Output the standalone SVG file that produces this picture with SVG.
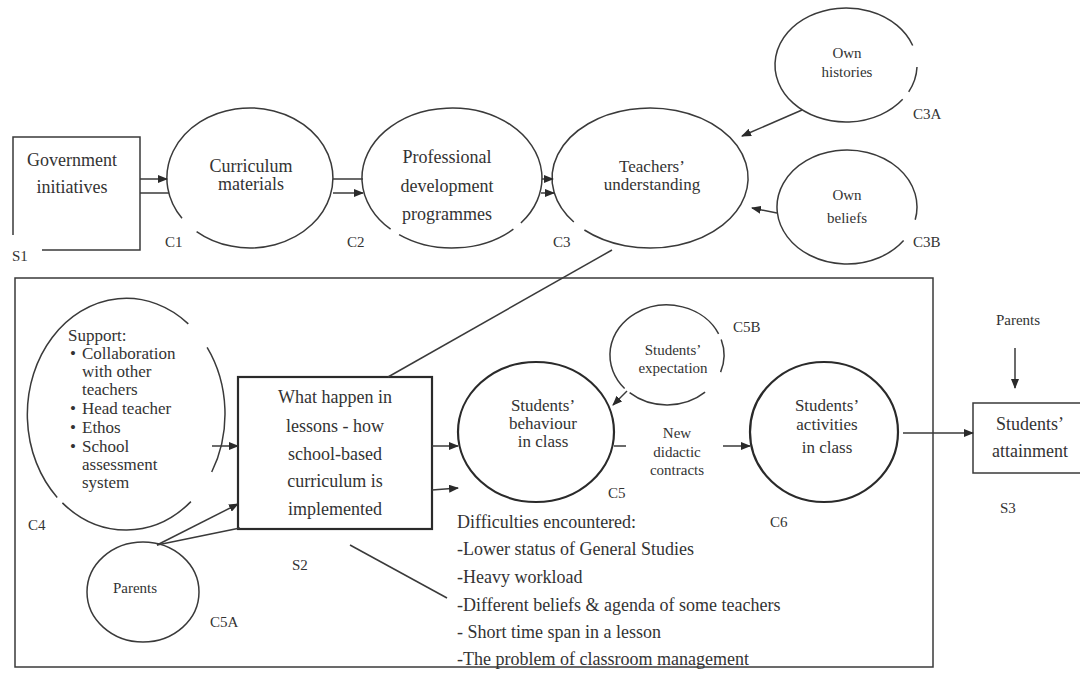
<svg xmlns="http://www.w3.org/2000/svg" width="1080" height="675" viewBox="0 0 1080 675">
<style>
text{font-family:"Liberation Serif","Times New Roman",serif;fill:#333}
.t{font-size:18px}
.c{font-size:17px}
.s{font-size:15px}
.m{text-anchor:middle}
.ln{fill:none;stroke:#3a3a3a;stroke-width:1.5}
.bd{fill:none;stroke:#2a2a2a;stroke-width:2.2}
.ar{marker-end:url(#ah)}
</style>
<defs>
<marker id="ah" markerUnits="userSpaceOnUse" markerWidth="10" markerHeight="8" refX="9" refY="4" orient="auto">
<path d="M0,0 L10,4 L0,8 z" fill="#2a2a2a"/>
</marker>
</defs>
<rect width="1080" height="675" fill="#fff"/>

<g id="frame"><rect class="ln" x="15" y="278" width="918" height="389"/></g>

<g id="S1">
<path class="ln" d="M13,235 V137 H140 V250 H42"/>
<text class="t m" x="72" y="166">Government</text>
<text class="t m" x="72" y="193">initiatives</text>
<text class="s" x="12" y="261">S1</text>
</g>

<g id="C1">
<path class="ln" d="M182,218.2 A83 70 0 1 1 196.6,231.6"/>
<text class="t m" x="251" y="172">Curriculum</text>
<text class="t m" x="251" y="190">materials</text>
<text class="s" x="165" y="247">C1</text>
</g>

<g id="C2">
<path class="ln" d="M390.6,229.2 A90 70 0 1 1 520.9,223 M513.4,229.2 A90 70 0 0 1 399.1,234.6"/>
<text class="t m" x="447" y="163">Professional</text>
<text class="t m" x="447" y="192">development</text>
<text class="t m" x="447" y="220">programmes</text>
<text class="s" x="347" y="247">C2</text>
</g>

<g id="C3">
<path class="ln" d="M573.8,222 A98 70 0 1 1 584.4,230"/>
<text class="c m" x="652" y="172">Teachers’</text>
<text class="c m" x="652" y="190">understanding</text>
<text class="s" x="553" y="247">C3</text>
</g>

<g id="C3A">
<path class="ln" d="M902.7,99.3 A71 57 0 1 1 912.7,45.5 M917,67 A71 57 0 0 1 908.7,91.8"/>
<text class="s m" x="847" y="58">Own</text>
<text class="s m" x="847" y="77">histories</text>
<text class="s" x="913" y="119">C3A</text>
</g>

<g id="C3B">
<path class="ln" d="M903.6,240.5 A70 57 0 1 1 915.2,219.8"/>
<text class="s m" x="847" y="200">Own</text>
<text class="s m" x="847" y="223">beliefs</text>
<text class="s" x="913" y="247">C3B</text>
</g>

<g id="C4">
<path class="ln" d="M207.1,347.4 A99 116 0 0 1 211.7,472 M190.9,501.6 A99 116 0 0 1 62.4,502.9 M57.2,497.4 A99 116 0 0 1 188.3,323.9"/>
<text class="c" x="68" y="341">Support:</text>
<text class="c" x="70" y="359">•</text><text class="c" x="82" y="359">Collaboration</text>
<text class="c" x="82" y="377">with other</text>
<text class="c" x="82" y="395">teachers</text>
<text class="c" x="70" y="414">•</text><text class="c" x="82" y="414">Head teacher</text>
<text class="c" x="70" y="433">•</text><text class="c" x="82" y="433">Ethos</text>
<text class="c" x="70" y="452">•</text><text class="c" x="82" y="452">School</text>
<text class="c" x="82" y="470">assessment</text>
<text class="c" x="82" y="488">system</text>
<text class="s" x="28" y="530">C4</text>
</g>

<g id="S2">
<rect class="bd" x="238" y="377" width="194" height="152"/>
<text class="t m" x="335" y="403">What happen in</text>
<text class="t m" x="335" y="432">lessons - how</text>
<text class="t m" x="335" y="460">school-based</text>
<text class="t m" x="335" y="487">curriculum is</text>
<text class="t m" x="335" y="515">implemented</text>
<text class="s" x="292" y="570">S2</text>
</g>

<g id="C5A">
<ellipse class="ln" cx="143" cy="592" rx="56" ry="50"/>
<text class="s m" x="135" y="593">Parents</text>
<text class="s" x="210" y="627">C5A</text>
</g>

<g id="C5B">
<path class="ln" d="M624.6,388.5 A57 50 0 1 1 718.6,333.9 M721.2,339.5 A57 50 0 0 1 720.6,372.1 M705.1,392.2 A57 50 0 0 1 629.6,392.7"/>
<text class="s m" x="673" y="355">Students’</text>
<text class="s m" x="673" y="373">expectation</text>
<text class="s" x="733" y="332">C5B</text>
</g>

<g id="C5">
<ellipse class="bd" cx="536" cy="432" rx="78" ry="70"/>
<text class="c m" x="543" y="411">Students’</text>
<text class="c m" x="543" y="429">behaviour</text>
<text class="c m" x="543" y="447">in class</text>
<text class="s" x="608" y="498">C5</text>
</g>

<g id="contract">
<text class="s m" x="677" y="438">New</text>
<text class="s m" x="677" y="457">didactic</text>
<text class="s m" x="677" y="475">contracts</text>
</g>

<g id="C6">
<ellipse class="bd" cx="824" cy="432" rx="74" ry="70"/>
<text class="c m" x="827" y="411">Students’</text>
<text class="c m" x="827" y="430">activities</text>
<text class="c m" x="827" y="453">in class</text>
<text class="s" x="770" y="527">C6</text>
</g>

<g id="S3">
<rect class="ln" x="973" y="403" width="120" height="70"/>
<text class="t m" x="1030" y="430">Students’</text>
<text class="t m" x="1030" y="457">attainment</text>
<text class="s" x="1000" y="513">S3</text>
</g>

<g id="parents-top">
<text class="s m" x="1018" y="325">Parents</text>
</g>

<g id="difficulties">
<text class="t" x="457" y="528">Difficulties encountered:</text>
<text class="t" x="457" y="555">-Lower status of General Studies</text>
<text class="t" x="457" y="583">-Heavy workload</text>
<text class="t" x="457" y="611">-Different beliefs &amp; agenda of some teachers</text>
<text class="t" x="457" y="638">- Short time span in a lesson</text>
<text class="t" x="457" y="665">-The problem of classroom management</text>
</g>

<g id="connectors">
<line class="ln ar" x1="140" y1="179" x2="167" y2="179"/>
<line class="ln" x1="140" y1="193" x2="169" y2="193"/>
<line class="ln" x1="333" y1="179" x2="363" y2="179"/>
<line class="ln ar" x1="333" y1="193" x2="363" y2="193"/>
<line class="ln ar" x1="542" y1="179" x2="553" y2="179"/>
<line class="ln ar" x1="541" y1="193" x2="554" y2="193"/>
<line class="ln ar" x1="802" y1="110" x2="742" y2="136"/>
<line class="ln ar" x1="777" y1="213" x2="752" y2="208"/>
<line class="ln" x1="612" y1="250" x2="388" y2="377"/>
<line class="ln ar" x1="212" y1="446" x2="238" y2="446"/>
<line class="ln ar" x1="157" y1="545" x2="238" y2="504"/>
<line class="ln" x1="157" y1="545" x2="240" y2="528"/>
<line class="ln ar" x1="432" y1="446" x2="458" y2="446"/>
<line class="ln ar" x1="432" y1="490" x2="458" y2="488"/>
<line class="ln" x1="350" y1="545" x2="447" y2="598"/>
<line class="ln ar" x1="627" y1="391" x2="613" y2="405"/>
<line class="ln" x1="614" y1="446" x2="626" y2="446"/>
<line class="ln ar" x1="723" y1="446" x2="750" y2="446"/>
<line class="ln ar" x1="903" y1="433" x2="973" y2="433"/>
<line class="ln ar" x1="1015" y1="348" x2="1015" y2="388"/>
</g>
</svg>
